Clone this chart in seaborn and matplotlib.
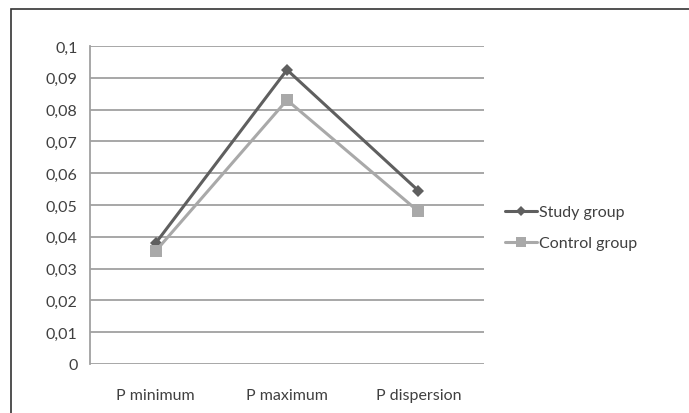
import pandas as pd
import numpy as np
import matplotlib.pyplot as plt
import seaborn as sns
from matplotlib.patches import Rectangle

categories = ["P minimum", "P maximum", "P dispersion"]
study_values = [0.038, 0.0925, 0.0545]
control_values = [0.0355, 0.083, 0.048]
y_ticks = [0, 0.01, 0.02, 0.03, 0.04, 0.05, 0.06, 0.07, 0.08, 0.09, 0.1]
y_labels = ["0", "0,01", "0,02", "0,03", "0,04", "0,05", "0,06", "0,07", "0,08", "0,09", "0,1"]

df = pd.DataFrame({
    "param": categories * 2,
    "value": study_values + control_values,
    "group": ["Study group"] * 3 + ["Control group"] * 3,
})

sns.set_style("white")
plt.rcParams['font.family'] = ['Lato', 'DejaVu Sans']

fig = plt.figure(figsize=(6.89, 4.14), dpi=100)
ax = fig.add_axes([0.1306, 0.1184, 0.5719, 0.7681])

pal = {"Study group": "#5f5f5f", "Control group": "#a9a9a9"}
mk = {"Study group": "D", "Control group": "s"}
sns.lineplot(data=df, x="param", y="value", hue="group", style="group",
             palette=pal, markers=mk, dashes=False, linewidth=2.2,
             markersize=7, markeredgewidth=0, sort=False, ax=ax)
# bigger squares, slimmer diamonds like the original
for ln in ax.get_lines():
    if ln.get_marker() == "s":
        ln.set_markersize(9)
    elif ln.get_marker() == "D":
        ln.set_markersize(6)

# grid lines
for t in y_ticks:
    ax.axhline(t, color="#a0a0a0", lw=1.3, zorder=0)

ax.set_xlim(-0.5, 2.5)
ax.set_ylim(0, 0.1)
ax.set_yticks(y_ticks)
ax.set_yticklabels(y_labels, fontsize=11.5, color="#404040")
ax.set_xticks(range(3))
ax.set_xticklabels(categories, fontsize=11.5, color="#404040")
ax.set_xticks([-0.5, 0.5, 1.5, 2.5], minor=True)
ax.tick_params(axis="x", which="major", length=0, pad=17)
ax.tick_params(axis="x", which="minor", length=5, color="#a0a0a0", width=1.3)
ax.tick_params(axis="y", length=5, color="#a0a0a0", width=1.3, pad=4)
ax.set_xlabel("")
ax.set_ylabel("")
for s in ["top", "right", "bottom"]:
    ax.spines[s].set_visible(False)
ax.spines["left"].set_color("#a0a0a0")
ax.spines["left"].set_linewidth(1.3)

leg = ax.legend(loc="center left", bbox_to_anchor=(1.018, 0.428), frameon=False,
                fontsize=11.5, handlelength=2.0, handletextpad=0.1, labelspacing=1.05,
                markerscale=0.8)
for txt in leg.get_texts():
    txt.set_color("#404040")

# outer chart border
fig.patches.append(Rectangle((11 / 689, -0.05), 1.0, 1 - 10 / 414 + 0.05,
                             transform=fig.transFigure, fill=False,
                             edgecolor="#333333", lw=1.2))

plt.savefig("out.png", dpi=100)
